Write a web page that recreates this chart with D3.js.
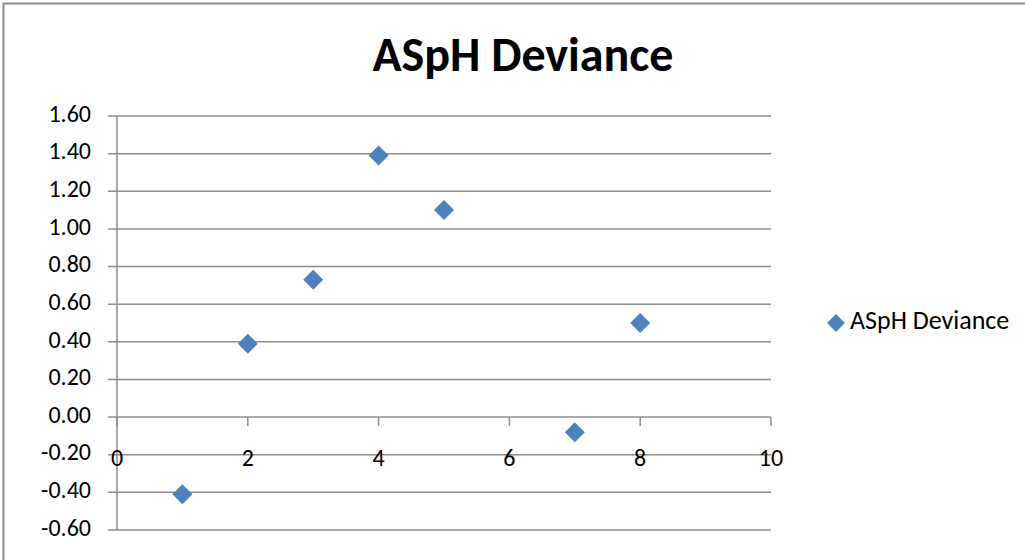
<!DOCTYPE html>
<html>
<head>
<meta charset="utf-8">
<script src="https://cdn.jsdelivr.net/npm/d3@7"></script>
<style>
  body { margin: 0; background: #fff; }
  text { font-family: Carlito, "Open Sans", "Liberation Sans", sans-serif; }
  .grid-line { stroke: #8c8c8c; stroke-width: 1.5; }
  .axis-line { stroke: #8c8c8c; stroke-width: 1.5; }
  .axis-text { font-size: 24px; fill: #000; }
</style>
</head>
<body>
<div id="chart"></div>
<script>
const seriesName = "ASpH Deviance";
const xValues = [1, 2, 3, 4, 5, 7, 8];
const yValues = [-0.41, 0.39, 0.73, 1.39, 1.10, -0.08, 0.50];
const xTickValues = [0, 2, 4, 6, 8, 10];
const yTickValues = [-0.6, -0.4, -0.2, 0, 0.2, 0.4, 0.6, 0.8, 1.0, 1.2, 1.4, 1.6];

const width = 1025;
const height = 560;
const margin = { top: 116, right: 254, bottom: 30, left: 117 };
const color = "#4f81bd";

const xScale = d3.scaleLinear().domain([0, 10]).range([margin.left, width - margin.right]);
const yScale = d3.scaleLinear().domain([-0.6, 1.6]).range([height - margin.bottom, margin.top]);

const svg = d3.select("#chart")
  .append("svg")
  .attr("width", width)
  .attr("height", height);

// chart border
svg.append("rect")
  .attr("x", 3.5)
  .attr("y", 3.5)
  .attr("width", width + 10)
  .attr("height", height + 10)
  .attr("fill", "none")
  .attr("stroke", "#8c8c8c")
  .attr("stroke-width", 2);

svg.append("text")
  .attr("x", 523)
  .attr("y", 71)
  .attr("text-anchor", "middle")
  .attr("font-size", 48)
  .attr("font-weight", "bold")
  .text(seriesName);

// horizontal gridlines + y ticks
const yTicks = svg.selectAll(".y-tick")
  .data(yTickValues)
  .enter()
  .append("g")
  .attr("transform", (d) => `translate(0, ${yScale(d)})`);

yTicks.append("line")
  .attr("class", "grid-line")
  .attr("x1", margin.left - 9)
  .attr("x2", width - margin.right)
  .attr("y1", 0)
  .attr("y2", 0);

yTicks.append("text")
  .attr("class", "axis-text")
  .attr("x", margin.left - 26)
  .attr("text-anchor", "end")
  .attr("dominant-baseline", "middle")
  .text((d) => d.toFixed(2));

// y axis line
svg.append("line")
  .attr("class", "axis-line")
  .attr("x1", margin.left)
  .attr("x2", margin.left)
  .attr("y1", yScale(1.6))
  .attr("y2", yScale(-0.6));

// x ticks at y = 0
const xTicks = svg.selectAll(".x-tick")
  .data(xTickValues)
  .enter()
  .append("g")
  .attr("transform", (d) => `translate(${xScale(d)}, ${yScale(0)})`);

xTicks.append("line")
  .attr("class", "axis-line")
  .attr("y1", 0)
  .attr("y2", 9);

xTicks.append("text")
  .attr("class", "axis-text")
  .attr("y", 43)
  .attr("text-anchor", "middle")
  .attr("dominant-baseline", "middle")
  .text((d) => d);

const diamond = d3.symbol().type(d3.symbolSquare).size(200);

svg.selectAll(".point")
  .data(xValues)
  .enter()
  .append("path")
  .attr("d", diamond)
  .attr("fill", color)
  .attr("transform", (d, i) => `translate(${xScale(d)}, ${yScale(yValues[i])}) rotate(45)`);

// legend
const legend = svg.append("g").attr("transform", `translate(836, ${yScale(0.5)})`);
legend.append("path")
  .attr("d", d3.symbol().type(d3.symbolSquare).size(160))
  .attr("fill", color)
  .attr("transform", "rotate(45)");
legend.append("text")
  .attr("x", 14)
  .attr("font-size", 26)
  .attr("dominant-baseline", "middle")
  .text(seriesName);
</script>
</body>
</html>
